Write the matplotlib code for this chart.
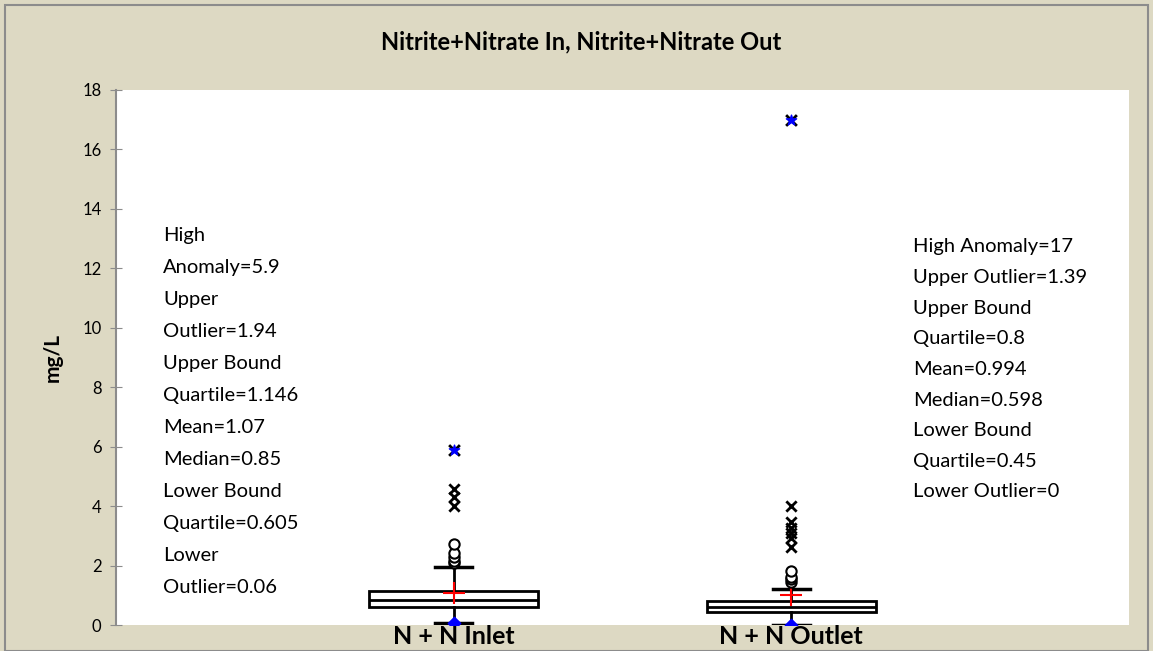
import matplotlib.pyplot as plt
from matplotlib.patches import Rectangle

plt.rcParams['font.family'] = ['Lato', 'DejaVu Sans']

categorie = ["N + N Inlet", "N + N Outlet"]
q1 = [0.605, 0.45]
mediana = [0.85, 0.598]
q3 = [1.146, 0.8]
media = [1.07, 0.994]
baffo_basso = [0.06, 0.0]
baffo_alto = [1.94, 1.21]
# outlier lievi (cerchi), estremi (croci), anomalia massima
cerchi = [[2.09, 2.15, 2.29, 2.42, 2.73], [1.45, 1.55, 1.62, 1.82]]
croci = [[4.0, 4.31, 4.57], [2.63, 2.93, 3.1, 3.26, 3.47, 4.0]]
anomalia = [5.9, 17.0]
testo_sx = ["High", "Anomaly=5.9", "Upper", "Outlier=1.94", "Upper Bound",
            "Quartile=1.146", "Mean=1.07", "Median=0.85", "Lower Bound",
            "Quartile=0.605", "Lower", "Outlier=0.06"]
testo_dx = ["High Anomaly=17", "Upper Outlier=1.39", "Upper Bound",
            "Quartile=0.8", "Mean=0.994", "Median=0.598", "Lower Bound",
            "Quartile=0.45", "Lower Outlier=0"]

sfondo = "#ddd9c3"
fig = plt.figure(figsize=(11.53, 6.51), dpi=100, facecolor=sfondo)
fig.patches.append(Rectangle((0.004, 0.0), 0.992, 0.992, transform=fig.transFigure,
                             fill=False, edgecolor="#8c8c8c", linewidth=1.5))
ax = fig.add_axes([0.1006, 0.0399, 0.8786, 0.8219])
ax.set_facecolor("white")

pos = [1, 2]
stats = []
for i in range(2):
    stats.append(dict(med=mediana[i], q1=q1[i], q3=q3[i], whislo=baffo_basso[i],
                      whishi=baffo_alto[i], mean=media[i], fliers=[]))
ax.bxp(stats, positions=pos, widths=0.5, showmeans=True, patch_artist=True,
       boxprops=dict(facecolor="white", edgecolor="black", linewidth=2),
       medianprops=dict(color="black", linewidth=2),
       whiskerprops=dict(color="black", linewidth=2),
       capprops=dict(color="black", linewidth=2.5), capwidths=0.11,
       meanprops=dict(marker="+", markeredgecolor="red", markersize=16,
                      markeredgewidth=1.5), zorder=2)

for i in range(2):
    ax.scatter([pos[i]] * len(cerchi[i]), cerchi[i], s=55, facecolors="white",
               edgecolors="black", linewidths=1.5, zorder=3)
    ax.scatter([pos[i]] * len(croci[i]), croci[i], s=55, marker="x",
               color="black", linewidths=2, zorder=3)
    ax.scatter([pos[i]], [anomalia[i]], s=60, marker="x", color="black",
               linewidths=2, zorder=3)
    ax.scatter([pos[i]], [anomalia[i]], s=60, marker="*", color="blue", zorder=4)
    ax.scatter([pos[i]], [baffo_basso[i]], s=40, marker="D", color="blue", zorder=4)

ax.set_xlim(0, 3)
ax.set_ylim(0, 18)
ax.set_yticks(range(0, 19, 2))
ax.set_xticks(pos)
ax.set_xticklabels(categorie, fontsize=18, fontweight="bold")
ax.tick_params(axis="x", length=0, pad=0)
ax.tick_params(axis="y", direction="inout", length=9, color="#8c8c8c",
               labelsize=12, pad=6)
for s in ["top", "right", "bottom"]:
    ax.spines[s].set_visible(False)
ax.spines["left"].set_color("#8c8c8c")
ax.spines["left"].set_linewidth(1.5)
ax.set_ylabel("mg/L", fontsize=15, fontweight="bold", labelpad=14)

for k, riga in enumerate(testo_sx):
    ax.text(0.139, 13.09 - k * 1.075, riga, fontsize=14.5, va="center", ha="left")
for k, riga in enumerate(testo_dx):
    ax.text(2.36, 12.72 - k * 1.03, riga, fontsize=14.5, va="center", ha="left")

fig.text(0.504, 0.935, "Nitrite+Nitrate In, Nitrite+Nitrate Out", ha="center",
         va="center", fontsize=17, fontweight="bold")

fig.savefig("out.png", dpi=100, facecolor=sfondo)
